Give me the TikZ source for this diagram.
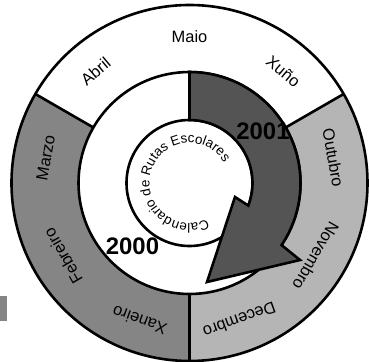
\documentclass[tikz,border=0pt]{standalone}
\usepackage{fontspec}
\setmainfont{Liberation Sans}
\usetikzlibrary{decorations.text}

\definecolor{arrowgray}{gray}{0.33}
\definecolor{leftgray}{gray}{0.52}
\definecolor{rightgray}{gray}{0.71}

\tikzset{
  ring/.style={line width=2.6bp},
  month/.style={font=\fontsize{16.5}{18}\selectfont},
  year/.style={font=\bfseries\fontsize{24}{26}\selectfont},
}

\begin{document}
\begin{tikzpicture}[x=1bp,y=1bp]
    \useasboundingbox (-189.5,-179) rectangle (179.5,183);

    % outer ring: three terms
    \foreach \a/\b/\c in {30/150/white, 150/270/leftgray, -90/30/rightgray}
    \fill[\c] (\a:178) arc[start angle=\a, end angle=\b, radius=178]
        -- (\b:111) arc[start angle=\b, end angle=\a, radius=111] -- cycle;
    \fill[leftgray] (-189.5,-113) rectangle (-182,-138);

    \fill[white] (0,0) circle[radius=111];
    \draw[ring] (0,0) circle[radius=178];
    \draw[ring] (0,0) circle[radius=111];
    \foreach \a in {30, 150, 270}
    \draw[ring] (\a:111) -- (\a:178);

    \draw[ring, fill=white] (0,0) circle[radius=63];

    % the 2001 arrow
    \filldraw[ring, fill=arrowgray] (90:111) arc[start angle=90, end angle=-34, radius=111]
        -- (110.5,-77) -- (17.5,-99) -- (45.5,-14)
        -- (-21:63) arc[start angle=-21, end angle=90, radius=63] -- cycle;

    \foreach \a/\n in {90/Maio, 130/Abril, 170/Marzo, 210/Febreiro, 250/Xaneiro,
                       290/Decembro, 330/Novembro, 10/Outubro, 50/Xuño}
    \node[month, rotate=\a-90] (mes\a) at (\a:146) {\n};

    \node[year] (y2001) at (73.5,52) {2001};
    \node[year] (y2000) at (-57,-63.5) {2000};

    \path[decorate, decoration={text along path,
        text={|\fontsize{13.5}{15}\selectfont|Calendario de Rutas Escolares}}]
        (-64:40) arc[start angle=-64, end angle=-330, radius=40];
\end{tikzpicture}
\end{document}
